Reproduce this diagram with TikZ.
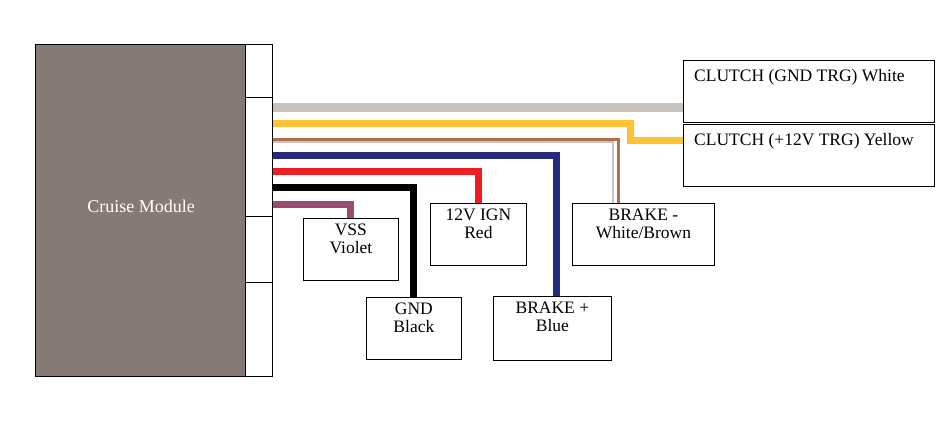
\documentclass[tikz,border=0pt]{standalone}
\usepackage{fontspec}
\setmainfont{Liberation Serif}
\begin{document}
\begin{tikzpicture}[x=1pt,y=-1pt,
  box/.style={draw=black,line width=0.8pt,fill=white,inner sep=0pt,anchor=north west},
  txt/.style={align=center,inner sep=0pt,anchor=north,font=\fontsize{17.5}{18}\selectfont},
  wire/.style={line width=#1,line join=miter},
  conn/.style={draw=black,line width=0.8pt,fill=white,inner sep=0pt,anchor=north west,minimum width=27pt}]
\useasboundingbox (0,0) rectangle (951,429);
\definecolor{modc}{HTML}{857A76}
\definecolor{wgrey}{HTML}{C9C3C0}
\definecolor{wyel}{HTML}{FFC232}
\definecolor{wbrown}{HTML}{B0704E}
\definecolor{wblue}{HTML}{252A80}
\definecolor{wred}{HTML}{EE1C25}
\definecolor{wviol}{HTML}{9E4C6E}
\node[draw=black,fill=modc,minimum width=210pt,minimum height=332pt,anchor=north west,inner sep=0pt] (mod) at (35,44) {};
\node[text=white,font=\fontsize{18}{19}\selectfont] (modt) at (141,206) {Cruise Module};
\node[conn,minimum height=53pt] (c1) at (245,44) {};
\node[conn,minimum height=119pt] (c2) at (245,97) {};
\node[conn,minimum height=66pt] (c3) at (245,216) {};
\node[conn,minimum height=94pt] (c4) at (245,282) {};
% boxes
\node[box,minimum width=251pt,minimum height=62pt] (cw) at (683,60) {};
\node[txt,anchor=north west] (cwt) at (694,69) {CLUTCH (GND TRG) White};
\node[box,minimum width=251pt,minimum height=62pt] (cy) at (683,124) {};
\node[txt,anchor=north west] (cyt) at (694,133) {CLUTCH (+12V TRG) Yellow};
\node[box,minimum width=95pt,minimum height=62pt] (vss) at (303,218) {};
\node[txt] (vsst) at ([yshift=-6pt]vss.north) {VSS\\Violet};
\node[box,minimum width=96pt,minimum height=62pt] (ign) at (430,203) {};
\node[txt] (ignt) at ([yshift=-6pt]ign.north) {12V IGN\\Red};
\node[box,minimum width=142pt,minimum height=62pt] (bm) at (572,203) {};
\node[txt] (bmt) at ([yshift=-6pt]bm.north) {BRAKE -\\White/Brown};
\node[box,minimum width=95pt,minimum height=62pt] (gnd) at (366,297) {};
\node[txt] (gndt) at ([yshift=-6pt]gnd.north) {GND\\Black};
\node[box,minimum width=118pt,minimum height=64pt] (bp) at (493,296) {};
\node[txt] (bpt) at ([yshift=-6pt]bp.north) {BRAKE +\\Blue};
% wires
\draw[wgrey,wire=9pt] (c2.east |- 0,107) -- (cw.west |- 0,107);
\draw[wyel,wire=7pt] (c2.east |- 0,123) -- (630,123) -- (630,140) -- (cy.west |- 0,140);
\draw[wgrey,wire=2.5pt] (c2.east |- 0,142) -- (613,142) -- (613,203);
\draw[wbrown,wire=3pt] (c2.east |- 0,139) -- (618,139) -- (618,203);
\draw[wblue,wire=7pt] (c2.east |- 0,155) -- (556,155) -- (bp.north -| 556,0);
\draw[wred,wire=7pt] (c2.east |- 0,171) -- (478,171) -- (ign.north -| 478,0);
\draw[black,wire=7pt] (c2.east |- 0,187) -- (413,187) -- (gnd.north -| 413,0);
\draw[wviol,wire=7pt] (c2.east |- 0,204) -- (350,204) -- (vss.north -| 350,0);
\end{tikzpicture}
\end{document}
